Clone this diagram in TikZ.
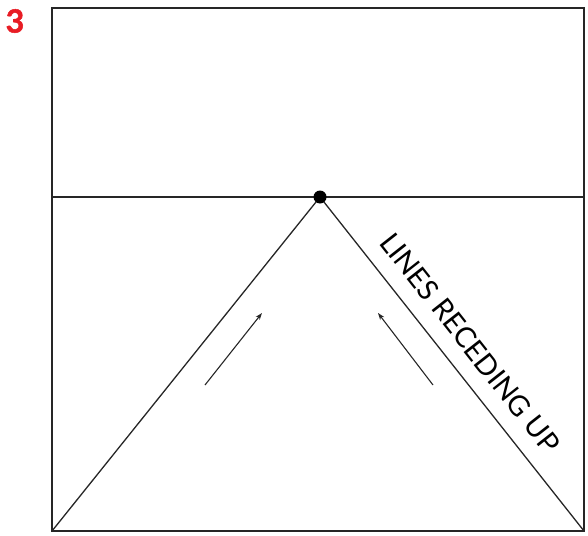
\documentclass[tikz,border=0pt]{standalone}
\usepackage{fontspec}
\setmainfont{Lato}
\newfontfamily\numfont{Lato}[BoldFeatures={FakeBold=1.6}]
\usetikzlibrary{arrows.meta}
\definecolor{numred}{RGB}{232,28,36}
\begin{document}
\begin{tikzpicture}[x=1pt,y=-1pt,
  frame/.style={line width=1.8pt,black!85},
  ray/.style={line width=1.3pt,black!85},
  dirarrow/.style={line width=1.1pt,black!85,-{Stealth[length=7pt,width=5pt]}},
  lbl/.style={font=\fontsize{28.5}{28.5}\selectfont,inner sep=0pt}]
\useasboundingbox (0,0) rectangle (588,535);
\coordinate (tl) at (52,8);
\coordinate (br) at (584,531);
\coordinate (bl) at (52,531);
\coordinate (hl) at (52,197);
\coordinate (hr) at (584,197);
\coordinate (vp) at (320,197);
\draw[frame] (tl) rectangle (br);
\draw[ray] (hl) -- (hr);
\draw[ray] (bl) -- (vp);
\draw[ray] (br |- bl) -- (vp);
\fill[black] (vp) circle (6.5);
\coordinate (a1s) at (205,385);
\coordinate (a1e) at (262,313);
\coordinate (a2s) at (433,385);
\coordinate (a2e) at (378,313);
\draw[dirarrow] (a1s) -- (a1e);
\draw[dirarrow] (a2s) -- (a2e);
\node[lbl, rotate=-51.8] (txt) at (470,343) {LINES RECEDING UP};
\node[font=\fontsize{32}{32}\selectfont\numfont\bfseries, text=numred, inner sep=0pt] (num) at (15,21) {3};
\end{tikzpicture}
\end{document}
